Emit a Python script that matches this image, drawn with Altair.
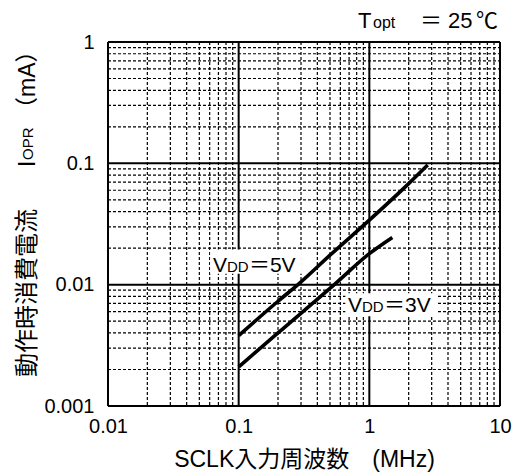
import altair as alt
import pandas as pd

# ---- data ----
freq_5v = [0.1, 0.2, 0.29, 0.5, 1.0, 2.0, 2.8]
iopr_5v = [0.0038, 0.0073, 0.0102, 0.0175, 0.034, 0.068, 0.097]
freq_3v = [0.1, 0.2, 0.55, 1.0, 1.5]
iopr_3v = [0.0021, 0.0040, 0.0102, 0.018, 0.0245]

x_ticks = [0.01, 0.1, 1, 10]
y_ticks = [0.001, 0.01, 0.1, 1]
x_minor = [m * d for d in [0.01, 0.1, 1] for m in range(2, 10)]
y_minor = [m * d for d in [0.001, 0.01, 0.1] for m in range(2, 10)]

# label anchors (data coordinates) and white boxes behind them
label_5v = {"x": 0.0635, "y": 0.0128, "box": [0.0605, 0.305, 0.0123, 0.0195]}
label_3v = {"x": 0.686, "y": 0.0059, "box": [0.655, 3.3, 0.0055, 0.0085]}

W, H = 392, 364
FONT = "Liberation Sans, Noto Sans CJK JP"
CJK = "Noto Sans CJK JP"

xscale = alt.Scale(type="log", domain=[0.01, 10], nice=False)
yscale = alt.Scale(type="log", domain=[0.001, 1], nice=False)

xaxis = alt.Axis(values=x_ticks, format="~g", grid=False, ticks=False, domain=False,
                 labelFont=FONT, labelFontSize=20, labelColor="black", labelPadding=10,
                 labelFlush=False,
                 title="SCLK入力周波数\u3000(MHz)", titleFont=FONT, titleFontSize=23,
                 titleFontWeight="normal", titleColor="black", titlePadding=12)
yaxis = alt.Axis(values=y_ticks, format="~g", grid=False, ticks=False, domain=False,
                 labelFont=FONT, labelFontSize=20, labelColor="black", labelPadding=14,
                 labelFlush=False, title=None)

X = alt.X("x:Q", scale=xscale, axis=xaxis)
Y = alt.Y("y:Q", scale=yscale, axis=yaxis)

layers = []

# minor grid
layers.append(alt.Chart(pd.DataFrame({"x": x_minor})).mark_rule(
    color="black", strokeWidth=1.2, strokeDash=[3, 2]).encode(
    x=X, y=alt.value(0), y2=alt.value(H)))
layers.append(alt.Chart(pd.DataFrame({"y": y_minor})).mark_rule(
    color="black", strokeWidth=1.2, strokeDash=[3, 2]).encode(
    y=Y, x=alt.value(0), x2=alt.value(W)))
# major grid
layers.append(alt.Chart(pd.DataFrame({"x": x_ticks})).mark_rule(
    color="black", strokeWidth=2).encode(x=X, y=alt.value(0), y2=alt.value(H)))
layers.append(alt.Chart(pd.DataFrame({"y": y_ticks})).mark_rule(
    color="black", strokeWidth=2).encode(y=Y, x=alt.value(0), x2=alt.value(W)))

# white boxes behind labels
for lab in (label_5v, label_3v):
    b = lab["box"]
    layers.append(alt.Chart(pd.DataFrame({"x": [b[0]], "x2": [b[1]], "y": [b[2]], "y2": [b[3]]}))
                  .mark_rect(color="white").encode(x=X, x2="x2:Q", y=Y, y2="y2:Q"))

# curves
curves = pd.concat([
    pd.DataFrame({"x": freq_5v, "y": iopr_5v, "s": "5V"}),
    pd.DataFrame({"x": freq_3v, "y": iopr_3v, "s": "3V"}),
])
layers.append(alt.Chart(curves).mark_line(color="black", strokeWidth=3.6, strokeCap="butt",
                                          interpolate="monotone").encode(
    x=X, y=Y, detail="s:N"))

# curve labels: V + subscript DD + ＝nV
def vdd_label(lab, volt):
    pieces = [("V", 0, 21), ("DD", 14, 15), ("＝" + volt + "V", 36, 21)]
    out = []
    for text, dx, size in pieces:
        out.append(alt.Chart(pd.DataFrame({"x": [lab["x"]], "y": [lab["y"]], "t": [text]}))
                   .mark_text(align="left", baseline="alphabetic", dx=dx, font=FONT,
                              fontSize=size, color="black")
                   .encode(x=X, y=Y, text="t:N"))
    return out

layers += vdd_label(label_5v, "5")
layers += vdd_label(label_3v, "3")

# Topt = 25℃ (top right, above the plot)
for text, dx, size, font in [("T", 0, 22, FONT), ("opt", 15, 16, FONT), ("＝", 62, 22, CJK),
                             ("25", 90, 22, FONT), ("℃", 118, 22, CJK)]:
    layers.append(alt.Chart(pd.DataFrame({"t": [text]})).mark_text(
        align="left", baseline="alphabetic", dx=dx, font=font, fontSize=size, color="black")
        .encode(x=alt.value(250), y=alt.value(-14), text="t:N"))

# rotated y title: 動作時消費電流 IOPR（mA）
for text, dx, size in [("動作時消費電流", 0, 24), ("I", 210, 23), ("OPR", 217, 15), ("（mA）", 257, 23)]:
    layers.append(alt.Chart(pd.DataFrame({"t": [text]})).mark_text(
        align="left", baseline="middle", angle=270, dx=dx, font=FONT, fontSize=size, color="black")
        .encode(x=alt.value(-80), y=alt.value(335), text="t:N"))

chart = alt.layer(*layers).properties(
    width=W, height=H,
    autosize=alt.AutoSizeParams(type="none"),
    padding={"left": 108, "top": 42, "right": 17, "bottom": 68},
).configure_view(stroke="black", strokeWidth=2).configure(background="white")

chart.save("out.html", embed_options={"renderer": "svg", "actions": False})
